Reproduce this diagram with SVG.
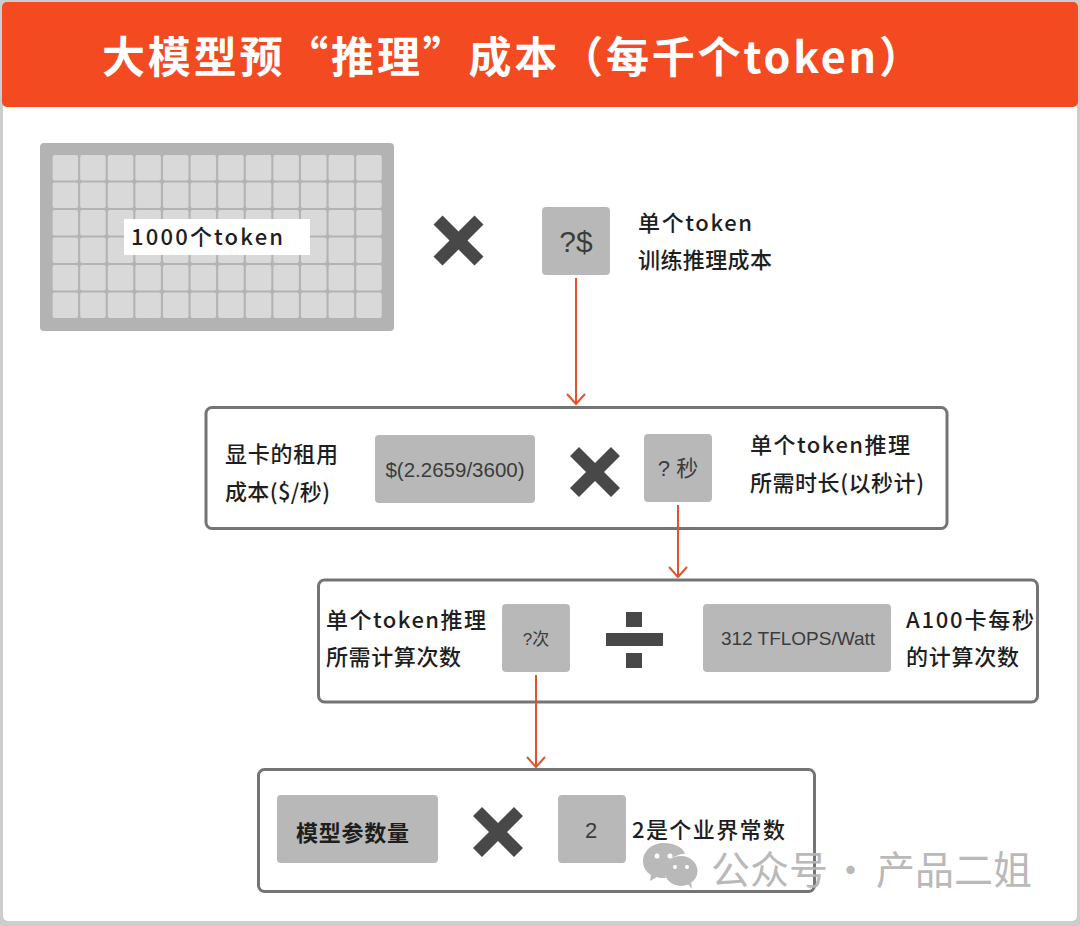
<svg xmlns="http://www.w3.org/2000/svg" xmlns:xlink="http://www.w3.org/1999/xlink" width="1080" height="926" viewBox="0 0 1080 926">
<style>
.lbl{font-family:"Noto Sans CJK SC","Noto Sans",sans-serif;font-size:22px;fill:#1e1e1e;font-weight:500}
.box{fill:#b8b8b8}
.val{font-family:"Liberation Sans","Noto Sans CJK SC",sans-serif;font-size:18px;fill:#3c3c3c;text-anchor:middle}
.panel{fill:#fff;stroke:#747474;stroke-width:3}
.op{fill:#484848}
.cell{fill:#d9d9d9}
.conn{fill:none;stroke:#e4512c;stroke-width:2}
</style>
<defs>
<rect id="c" class="cell" width="25.5" height="25.5" rx="2"/>
<path id="x" class="op" d="M-16-25 0-9 16-25 25-16 9 0 25 16 16 25 0 9-16 25-25 16-9 0-25-16Z"/>
<marker id="arr" markerUnits="userSpaceOnUse" markerWidth="24" markerHeight="24" refX="12" refY="12" orient="auto" viewBox="0 0 24 24" overflow="visible"><path d="M2 3 12 12 2 21" fill="none" stroke="#e4512c" stroke-width="2"/></marker>
</defs>
<rect width="1080" height="926" fill="#cdcdcd"/>
<rect x="3" y="60" width="1074" height="861" rx="5" fill="#fff"/>
<g id="header">
<rect x="2" y="2" width="1076" height="105" rx="5" fill="#f34a21"/>
<text x="102" y="73" font-family="'Noto Sans CJK SC',sans-serif" font-size="43" font-weight="700" fill="#fff" textLength="820" lengthAdjust="spacing">大模型预“推理”成本（每千个token）</text>
</g>
<g id="tokens">
<rect x="40" y="143" width="354" height="188" rx="4" fill="#b3b3b3"/>
<g id="grid">
<use href="#c" x="52.6" y="155"/><use href="#c" x="80.2" y="155"/><use href="#c" x="107.8" y="155"/><use href="#c" x="135.4" y="155"/><use href="#c" x="163" y="155"/><use href="#c" x="190.6" y="155"/><use href="#c" x="218.2" y="155"/><use href="#c" x="245.8" y="155"/><use href="#c" x="273.4" y="155"/><use href="#c" x="301" y="155"/><use href="#c" x="328.6" y="155"/><use href="#c" x="356.2" y="155"/>
<use href="#c" x="52.6" y="182.5"/><use href="#c" x="80.2" y="182.5"/><use href="#c" x="107.8" y="182.5"/><use href="#c" x="135.4" y="182.5"/><use href="#c" x="163" y="182.5"/><use href="#c" x="190.6" y="182.5"/><use href="#c" x="218.2" y="182.5"/><use href="#c" x="245.8" y="182.5"/><use href="#c" x="273.4" y="182.5"/><use href="#c" x="301" y="182.5"/><use href="#c" x="328.6" y="182.5"/><use href="#c" x="356.2" y="182.5"/>
<use href="#c" x="52.6" y="210"/><use href="#c" x="80.2" y="210"/><use href="#c" x="107.8" y="210"/><use href="#c" x="135.4" y="210"/><use href="#c" x="163" y="210"/><use href="#c" x="190.6" y="210"/><use href="#c" x="218.2" y="210"/><use href="#c" x="245.8" y="210"/><use href="#c" x="273.4" y="210"/><use href="#c" x="301" y="210"/><use href="#c" x="328.6" y="210"/><use href="#c" x="356.2" y="210"/>
<use href="#c" x="52.6" y="237.5"/><use href="#c" x="80.2" y="237.5"/><use href="#c" x="107.8" y="237.5"/><use href="#c" x="135.4" y="237.5"/><use href="#c" x="163" y="237.5"/><use href="#c" x="190.6" y="237.5"/><use href="#c" x="218.2" y="237.5"/><use href="#c" x="245.8" y="237.5"/><use href="#c" x="273.4" y="237.5"/><use href="#c" x="301" y="237.5"/><use href="#c" x="328.6" y="237.5"/><use href="#c" x="356.2" y="237.5"/>
<use href="#c" x="52.6" y="265"/><use href="#c" x="80.2" y="265"/><use href="#c" x="107.8" y="265"/><use href="#c" x="135.4" y="265"/><use href="#c" x="163" y="265"/><use href="#c" x="190.6" y="265"/><use href="#c" x="218.2" y="265"/><use href="#c" x="245.8" y="265"/><use href="#c" x="273.4" y="265"/><use href="#c" x="301" y="265"/><use href="#c" x="328.6" y="265"/><use href="#c" x="356.2" y="265"/>
<use href="#c" x="52.6" y="292.5"/><use href="#c" x="80.2" y="292.5"/><use href="#c" x="107.8" y="292.5"/><use href="#c" x="135.4" y="292.5"/><use href="#c" x="163" y="292.5"/><use href="#c" x="190.6" y="292.5"/><use href="#c" x="218.2" y="292.5"/><use href="#c" x="245.8" y="292.5"/><use href="#c" x="273.4" y="292.5"/><use href="#c" x="301" y="292.5"/><use href="#c" x="328.6" y="292.5"/><use href="#c" x="356.2" y="292.5"/>
</g>
<rect x="124" y="219" width="186" height="36" fill="#fff"/>
<text class="lbl" x="131" y="245" textLength="152">1000个token</text>
</g>
<use id="times1" href="#x" transform="translate(458.500 240.500)"/>
<g id="unit-cost">
<rect class="box" x="542" y="207" width="68" height="68" rx="4"/>
<text class="val" x="576" y="252" style="font-size:30px">?$</text>
<text class="lbl" x="638" y="231" textLength="114">单个token</text>
<text class="lbl" x="638" y="268" textLength="134">训练推理成本</text>
</g>
<g id="panel-1">
<rect class="panel" x="206" y="407.500" width="741" height="121" rx="6"/>
<text class="lbl" x="225" y="462" textLength="113">显卡的租用</text>
<text class="lbl" x="225" y="500" textLength="105">成本($/秒)</text>
<rect class="box" x="375" y="435" width="160" height="68" rx="4"/>
<text class="val" x="455" y="477" style="font-size:20.500px">$(2.2659/3600)</text>
<use href="#x" transform="translate(595 472)"/>
<rect class="box" x="644" y="434" width="68" height="68" rx="4"/>
<text class="val" x="678" y="476" style="font-size:22px">? 秒</text>
<text class="lbl" x="750" y="453" textLength="160">单个token推理</text>
<text class="lbl" x="750" y="491" textLength="174">所需时长(以秒计)</text>
</g>
<g id="panel-2">
<rect class="panel" x="318.500" y="580" width="719" height="122" rx="6"/>
<text class="lbl" x="326" y="628" textLength="160">单个token推理</text>
<text class="lbl" x="326" y="665" textLength="135">所需计算次数</text>
<rect class="box" x="502" y="604" width="68" height="68" rx="4"/>
<text class="val" x="536" y="645" style="font-size:17px">?次</text>
<g id="divide" class="op"><rect x="626" y="612" width="16" height="15"/><rect x="606" y="633" width="57" height="13"/><rect x="626" y="653" width="16" height="15"/></g>
<rect class="box" x="703" y="604" width="188" height="68" rx="4"/>
<text class="val" x="798" y="645" style="font-size:19px">312 TFLOPS/Watt</text>
<text class="lbl" x="906" y="628" textLength="128">A100卡每秒</text>
<text class="lbl" x="906" y="665" textLength="113">的计算次数</text>
</g>
<g id="panel-3">
<rect class="panel" x="258.500" y="769.500" width="556" height="122" rx="6"/>
<rect class="box" x="277" y="795" width="161" height="68" rx="4"/>
<text class="lbl" x="296" y="841" textLength="113" style="font-weight:700">模型参数量</text>
<use href="#x" transform="translate(498 832)"/>
<rect class="box" x="558" y="795" width="68" height="68" rx="4"/>
<text class="val" x="591" y="838" style="font-size:22px">2</text>
<text class="lbl" x="632" y="838" textLength="153">2是个业界常数</text>
</g>
<g id="connectors">
<path class="conn" d="M576 278V404" marker-end="url(#arr)"/>
<path class="conn" d="M678 505V577" marker-end="url(#arr)"/>
<path class="conn" d="M536 675V767" marker-end="url(#arr)"/>
</g>
<g id="watermark" opacity="0.92">
<path d="M664 843c-12 0-21 8-21 18 0 6 3 11 8 14l-1 6 7-4c2 1 4 1 6 1l3 0c-1-2-1-4-1-6 0-10 9-18 20-18-2-7-11-11-21-11Z" fill="#b4b4b4"/>
<ellipse cx="681" cy="871" rx="16.500" ry="15" fill="#b4b4b4"/>
<path d="M688 884l4 5-1-7Z" fill="#b4b4b4"/>
<circle cx="657" cy="856" r="2.500" fill="#fff"/><circle cx="670" cy="856" r="2.500" fill="#fff"/>
<circle cx="675" cy="867" r="2" fill="#fff"/><circle cx="687" cy="867" r="2" fill="#fff"/>
<text y="884" font-family="'Noto Sans CJK SC',sans-serif" font-size="39" fill="#b4b4b4"><tspan x="711">公众号</tspan><tspan x="831">·</tspan><tspan x="876">产品二姐</tspan></text>
</g>
</svg>
